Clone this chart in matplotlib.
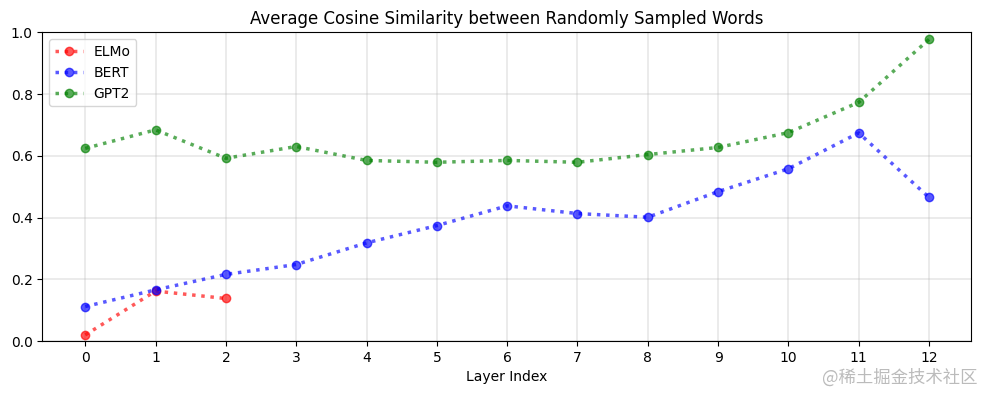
import matplotlib.pyplot as plt
import numpy as np

layers = list(range(13))
elmo = [0.02, 0.162, 0.138]
bert = [0.112, 0.166, 0.216, 0.248, 0.318, 0.374, 0.438, 0.413, 0.401, 0.484, 0.558, 0.674, 0.465]
gpt2 = [0.624, 0.684, 0.592, 0.630, 0.585, 0.579, 0.585, 0.579, 0.604, 0.627, 0.675, 0.773, 0.977]

fig, ax = plt.subplots(figsize=(9.85, 3.93), dpi=100)
fig.subplots_adjust(left=0.043, right=0.986, top=0.918, bottom=0.132)

ax.plot(layers[:len(elmo)], elmo, 'o:', color='r', alpha=0.65, linewidth=2.5, label='ELMo')
ax.plot(layers, bert, 'o:', color='b', alpha=0.65, linewidth=2.5, label='BERT')
ax.plot(layers, gpt2, 'o:', color='g', alpha=0.65, linewidth=2.5, label='GPT2')

ax.set_xlim(-0.61, 12.6)
ax.set_ylim(0, 1)
ax.set_xticks(layers)
ax.grid(alpha=0.3, linewidth=1.2)
ax.set_xlabel('Layer Index')
ax.set_title('Average Cosine Similarity between Randomly Sampled Words')
ax.legend(loc='upper left')

# watermark
fig.text(0.992, 0.04, '@稀土掘金技术社区', ha='right', va='center', fontsize=12.5,
         color='#bbbbbb', family=['Noto Sans CJK SC', 'DejaVu Sans'])

plt.savefig('out.png')
plt.close()
